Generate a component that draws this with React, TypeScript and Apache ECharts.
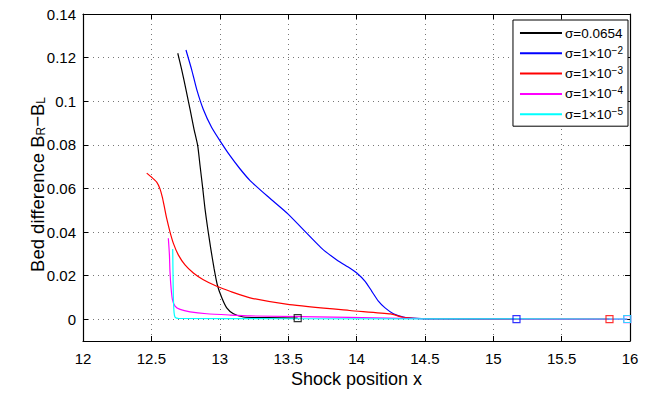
import React, { useEffect, useRef } from "react";
import * as echarts from "echarts";

const FONT = "'Liberation Sans', Arial, Helvetica, sans-serif";

const seriesNames = ["σ=0.0654", "σ=1×10^−2", "σ=1×10^−3", "σ=1×10^−4", "σ=1×10^−5"];
const seriesColors = ["#000000", "#0000ff", "#ff0000", "#ff00ff", "#00ffff"];

const xTicks = [12, 12.5, 13, 13.5, 14, 14.5, 15, 15.5, 16];
const yTicks = [0, 0.02, 0.04, 0.06, 0.08, 0.1, 0.12, 0.14];

const blackData: [number, number][] = [
  [12.693, 0.122], [12.722, 0.1144], [12.753, 0.1053], [12.783, 0.0962], [12.812, 0.0871],
  [12.839, 0.0795], [12.856, 0.0704], [12.876, 0.0598], [12.892, 0.0507], [12.912, 0.0416],
  [12.934, 0.0325], [12.958, 0.0234], [12.982, 0.0158], [13.015, 0.0098], [13.051, 0.0052],
  [13.1, 0.0025], [13.173, 0.001], [13.35, 0.0007], [13.57, 0.0005],
];
const blueData: [number, number][] = [
  [12.753, 0.1235], [12.795, 0.1144], [12.832, 0.1053], [12.88, 0.0962], [12.941, 0.0879],
  [13.002, 0.0818], [13.075, 0.075], [13.149, 0.0689], [13.222, 0.0636], [13.36, 0.0558],
  [13.5, 0.0482], [13.746, 0.0325], [13.856, 0.0272], [13.953, 0.0234], [14.002, 0.0212],
  [14.063, 0.0174], [14.112, 0.0128], [14.16, 0.0083], [14.209, 0.0052], [14.27, 0.0025],
  [14.343, 0.001], [14.44, 0.0004], [14.6, 0.0001], [15.17, 0.0],
];
const redData: [number, number][] = [
  [12.466, 0.067], [12.502, 0.0651], [12.539, 0.0629], [12.563, 0.0598], [12.58, 0.056],
  [12.595, 0.0515], [12.612, 0.0462], [12.636, 0.0401], [12.661, 0.0348], [12.697, 0.0295],
  [12.746, 0.0249], [12.807, 0.0212], [12.88, 0.0181], [12.978, 0.0151], [13.075, 0.0128],
  [13.222, 0.0098], [13.51, 0.0067], [13.95, 0.004], [14.25, 0.0024], [14.34, 0.0009],
  [14.5, 0.0002], [15.85, 0.0],
];
const magentaData: [number, number][] = [
  [12.624, 0.0371], [12.632, 0.0295], [12.636, 0.0219], [12.644, 0.0143], [12.654, 0.009],
  [12.673, 0.006], [12.71, 0.0045], [12.783, 0.0034], [12.905, 0.0025], [13.075, 0.0019],
  [13.222, 0.0015], [13.95, 0.0008], [14.5, 0.0002], [15.98, 0.0],
];
const cyanData: [number, number][] = [
  [12.656, 0.0322], [12.658, 0.0219], [12.661, 0.0098], [12.666, 0.003], [12.673, 0.001],
  [12.697, 0.0004], [13.5, 0.0002], [15.98, 0.0001],
];

const allData = [blackData, blueData, redData, magentaData, cyanData];

export default function App() {
  const ref = useRef<HTMLDivElement>(null);
  useEffect(() => {
    if (!ref.current) return;
    const chart = echarts.init(ref.current, null, { renderer: "svg" });

    const lineSeries = allData.map((d, i) => ({
      type: "line",
      name: seriesNames[i],
      data: d,
      symbol: "none",
      smooth: 0.2,
      color: seriesColors[i],
      lineStyle: { color: seriesColors[i], width: 1.2 },
      z: 2 + i,
      silent: true,
    }));
    const markerSeries = allData.map((d, i) => ({
      type: "scatter",
      data: [d[d.length - 1]],
      symbol: "rect",
      symbolSize: 7,
      itemStyle: { color: "rgba(255,255,255,0)", borderColor: seriesColors[i], borderWidth: 1.2 },
      z: 10 + i,
      silent: true,
    }));

    const gridLine = { show: true, lineStyle: { color: "#777", width: 1, type: [1, 4] } };
    const axisLine = { show: true, onZero: false, lineStyle: { color: "#000", width: 1.2 } };

    chart.setOption({
      animation: false,
      backgroundColor: "#fff",
      textStyle: { fontFamily: FONT },
      grid: { left: 83, right: 24, top: 14, bottom: 49.5, containLabel: false },
      legend: {
        data: seriesNames,
        orient: "vertical",
        right: 26,
        top: 20,
        icon: "rect",
        backgroundColor: "#fff",
        borderColor: "#000",
        borderWidth: 1,
        borderRadius: 0,
        padding: [6, 5, 5, 7],
        itemWidth: 42,
        itemHeight: 2,
        itemGap: 5.3,
        textStyle: {
          fontFamily: FONT,
          fontSize: 13.5,
          color: "#000",
          padding: [0, 0, 0, -2],
          rich: {
            b: { fontFamily: FONT, fontSize: 13.5, lineHeight: 16, color: "#000" },
            sup: { fontFamily: FONT, fontSize: 10, lineHeight: 8, verticalAlign: "top", color: "#000" },
          },
        },
        formatter: (name: string) => {
          const p = name.split("^");
          return p.length > 1 ? `{b|${p[0]}}{sup|${p[1]}}` : `{b|${name}}`;
        },
      },
      xAxis: [
        {
          type: "value",
          min: xTicks[0],
          max: xTicks[xTicks.length - 1],
          interval: 0.5,
          position: "bottom",
          axisLine,
          axisTick: { show: true, inside: true, length: 5, lineStyle: { color: "#000" } },
          axisLabel: { fontSize: 15, color: "#000", margin: 10, fontFamily: FONT },
          splitLine: gridLine,
          name: "Shock position x",
          nameLocation: "middle",
          nameGap: 29,
          nameMoveOverlap: false,
          nameTextStyle: { fontSize: 18, color: "#000", fontFamily: FONT },
        },
        {
          type: "value",
          min: xTicks[0],
          max: xTicks[xTicks.length - 1],
          interval: 0.5,
          position: "top",
          axisLine,
          axisTick: { show: true, inside: true, length: 5, lineStyle: { color: "#000" } },
          axisLabel: { show: false },
          splitLine: { show: false },
        },
      ],
      yAxis: [
        {
          type: "value",
          min: -0.01,
          max: 0.14,
          position: "left",
          axisLine,
          axisTick: { show: true, inside: true, length: 5, customValues: yTicks, lineStyle: { color: "#000" } },
          axisLabel: {
            customValues: yTicks,
            fontSize: 15,
            color: "#000",
            margin: 7,
            fontFamily: FONT,
            formatter: (v: number) => String(+v.toFixed(2)),
          },
          splitLine: gridLine,
          name: "{b|Bed difference B}{sub|R}{b|−B}{sub|L}",
          nameLocation: "middle",
          nameGap: 36,
          nameMoveOverlap: false,
          nameTextStyle: {
            fontSize: 18.5,
            color: "#000",
            fontFamily: FONT,
            padding: [0, 14, 0, 0],
            rich: {
              b: { fontFamily: FONT, fontSize: 18.5, lineHeight: 20, color: "#000" },
              sub: { fontFamily: FONT, fontSize: 12, lineHeight: 12, verticalAlign: "bottom", color: "#000" },
            },
          },
        },
        {
          type: "value",
          min: -0.01,
          max: 0.14,
          position: "right",
          axisLine,
          axisTick: { show: true, inside: true, length: 5, customValues: yTicks, lineStyle: { color: "#000" } },
          axisLabel: { show: false },
          splitLine: { show: false },
        },
      ],
      series: [...lineSeries, ...markerSeries],
    });
    return () => chart.dispose();
  }, []);
  return (
    <div
      ref={ref}
      style={{ position: "fixed", left: 0, top: 0, width: 654, height: 393, background: "#fff" }}
    />
  );
}
